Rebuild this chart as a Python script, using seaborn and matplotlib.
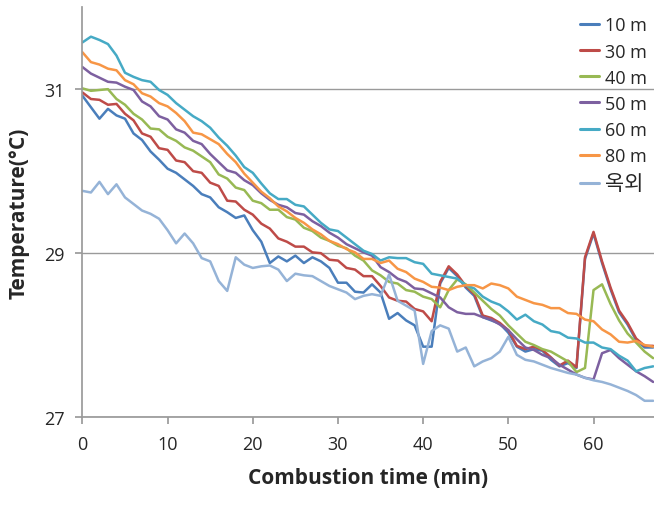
import numpy as np
import pandas as pd
import matplotlib
matplotlib.use("Agg")
import matplotlib.pyplot as plt
import seaborn as sns

# minutes since start
minutes = list(range(68))

t10 = [30.92, 30.78, 30.64, 30.76, 30.68, 30.64, 30.46, 30.38, 30.24, 30.14,
       30.03, 29.98, 29.90, 29.82, 29.72, 29.68, 29.56, 29.50, 29.43, 29.46,
       29.28, 29.14, 28.88, 28.96, 28.90, 28.97, 28.88, 28.95, 28.90, 28.82,
       28.64, 28.64, 28.53, 28.52, 28.62, 28.52, 28.20, 28.27, 28.18, 28.12,
       27.86, 27.86, 28.63, 28.82, 28.72, 28.58, 28.48, 28.22, 28.18, 28.14,
       28.03, 27.86, 27.80, 27.83, 27.81, 27.70, 27.62, 27.66, 27.60, 28.93,
       29.24, 28.88, 28.56, 28.28, 28.13, 27.94, 27.85, 27.85]
t30 = [30.96, 30.88, 30.87, 30.81, 30.82, 30.70, 30.62, 30.46, 30.42, 30.28,
       30.26, 30.13, 30.11, 30.00, 29.98, 29.86, 29.82, 29.64, 29.63, 29.53,
       29.47, 29.36, 29.30, 29.18, 29.14, 29.08, 29.08, 29.01, 29.00, 28.92,
       28.91, 28.82, 28.80, 28.72, 28.72, 28.60, 28.46, 28.42, 28.41, 28.32,
       28.29, 28.17, 28.65, 28.84, 28.74, 28.60, 28.50, 28.24, 28.21, 28.15,
       28.06, 27.87, 27.83, 27.86, 27.82, 27.73, 27.63, 27.69, 27.61, 28.95,
       29.26, 28.90, 28.58, 28.30, 28.15, 27.96, 27.87, 27.87]
t40 = [31.01, 30.98, 30.99, 31.00, 30.88, 30.81, 30.70, 30.63, 30.52, 30.51,
       30.42, 30.37, 30.29, 30.25, 30.18, 30.11, 29.96, 29.91, 29.80, 29.77,
       29.64, 29.61, 29.53, 29.53, 29.44, 29.41, 29.31, 29.27, 29.19, 29.15,
       29.09, 29.06, 28.97, 28.91, 28.79, 28.73, 28.65, 28.63, 28.55, 28.53,
       28.47, 28.44, 28.34, 28.55, 28.68, 28.62, 28.52, 28.42, 28.32, 28.24,
       28.12, 28.02, 27.92, 27.88, 27.83, 27.80, 27.74, 27.68, 27.55, 27.60,
       28.55, 28.62, 28.38, 28.18, 28.02, 27.91, 27.80, 27.72]
t50 = [31.27, 31.19, 31.14, 31.09, 31.08, 31.03, 30.99, 30.85, 30.79, 30.67,
       30.63, 30.51, 30.47, 30.37, 30.33, 30.21, 30.11, 30.01, 29.98, 29.89,
       29.83, 29.73, 29.65, 29.59, 29.56, 29.49, 29.47, 29.39, 29.33, 29.25,
       29.19, 29.11, 29.06, 29.01, 28.97, 28.83, 28.77, 28.69, 28.65, 28.57,
       28.56, 28.51, 28.46, 28.34, 28.28, 28.26, 28.26, 28.22, 28.19, 28.13,
       28.06, 27.95, 27.85, 27.82, 27.76, 27.72, 27.64, 27.58, 27.52, 27.48,
       27.46, 27.78, 27.82, 27.72, 27.64, 27.56, 27.50, 27.43]
t60 = [31.57, 31.64, 31.60, 31.55, 31.41, 31.20, 31.15, 31.11, 31.09, 30.99,
       30.93, 30.83, 30.75, 30.67, 30.61, 30.53, 30.41, 30.31, 30.19, 30.05,
       29.98, 29.85, 29.73, 29.66, 29.66, 29.59, 29.57, 29.47, 29.37, 29.29,
       29.27, 29.19, 29.11, 29.03, 28.99, 28.91, 28.95, 28.94, 28.94, 28.89,
       28.87, 28.75, 28.73, 28.71, 28.69, 28.61, 28.57, 28.47, 28.41, 28.37,
       28.29, 28.19, 28.25, 28.17, 28.13, 28.05, 28.03, 27.97, 27.96, 27.91,
       27.91, 27.85, 27.83, 27.75, 27.69, 27.56, 27.60, 27.62]
t80 = [31.45, 31.33, 31.30, 31.25, 31.23, 31.11, 31.06, 30.95, 30.91, 30.83,
       30.79, 30.71, 30.61, 30.47, 30.45, 30.39, 30.33, 30.21, 30.11, 29.97,
       29.86, 29.75, 29.67, 29.57, 29.51, 29.43, 29.37, 29.29, 29.23, 29.15,
       29.11, 29.05, 29.01, 28.93, 28.93, 28.88, 28.91, 28.81, 28.77, 28.69,
       28.65, 28.59, 28.58, 28.55, 28.59, 28.61, 28.61, 28.57, 28.63, 28.61,
       28.57, 28.47, 28.43, 28.39, 28.37, 28.33, 28.33, 28.27, 28.26, 28.19,
       28.17, 28.07, 28.01, 27.92, 27.91, 27.93, 27.88, 27.86]
outdoor = [29.76, 29.74, 29.87, 29.72, 29.84, 29.68, 29.60, 29.52, 29.48, 29.42,
           29.28, 29.12, 29.24, 29.12, 28.94, 28.90, 28.66, 28.54, 28.95, 28.86,
           28.82, 28.84, 28.85, 28.80, 28.66, 28.75, 28.73, 28.72, 28.66, 28.60,
           28.56, 28.52, 28.44, 28.48, 28.50, 28.48, 28.74, 28.42, 28.36, 28.30,
           27.65, 28.05, 28.12, 28.08, 27.80, 27.85, 27.62, 27.68, 27.72, 27.80,
           27.98, 27.76, 27.70, 27.68, 27.64, 27.60, 27.57, 27.54, 27.52, 27.48,
           27.45, 27.43, 27.40, 27.36, 27.32, 27.27, 27.20, 27.20]

labels = ["10 m", "30 m", "40 m", "50 m", "60 m", "80 m", "옥외"]
series = [t10, t30, t40, t50, t60, t80, outdoor]
colors = ["#4A7EBB", "#BE4B48", "#98B954", "#7D60A0", "#46AAC5", "#F79646", "#95B3D7"]

df = pd.concat([pd.DataFrame({"time": minutes, "temp": s, "loc": lab})
                for lab, s in zip(labels, series)], ignore_index=True)

sns.set_theme(style="white")
plt.rcParams["font.family"] = ["Open Sans", "Noto Sans CJK KR", "DejaVu Sans"]

fig = plt.figure(figsize=(6.54, 5.10), dpi=100)
ax = fig.add_axes([0.126, 0.180, 0.874, 0.804])

sns.lineplot(data=df, x="time", y="temp", hue="loc", hue_order=labels,
             palette=dict(zip(labels, colors)), linewidth=1.8, ax=ax)

ax.set_xlim(0, 67.1)
ax.set_ylim(27, 32)
ax.set_xticks(range(0, 61, 10))
ax.set_yticks([27, 29, 31])
ax.yaxis.grid(True, color="#9a9a9a", linewidth=1)
ax.set_axisbelow(True)
for side in ["top", "right"]:
    ax.spines[side].set_visible(False)
for side in ["left", "bottom"]:
    ax.spines[side].set_color("#9a9a9a")
ax.tick_params(axis="both", length=5, color="#9a9a9a", direction="out",
               labelsize=13, pad=8, left=True, bottom=True)

ax.set_xlabel("Combustion time (min)", fontsize=15, fontweight="bold", labelpad=10)
ax.set_ylabel("Temperature(°C)", fontsize=15, fontweight="bold", labelpad=10)

leg = ax.legend(loc="upper right", frameon=False, fontsize=13,
                handlelength=1.1, handletextpad=0.3, labelspacing=0.45,
                borderaxespad=0.0, bbox_to_anchor=(1.0, 0.995))
for line in leg.get_lines():
    line.set_linewidth(2.2)
leg.get_texts()[-1].set_fontsize(15)

fig.savefig("out.png", dpi=100)
